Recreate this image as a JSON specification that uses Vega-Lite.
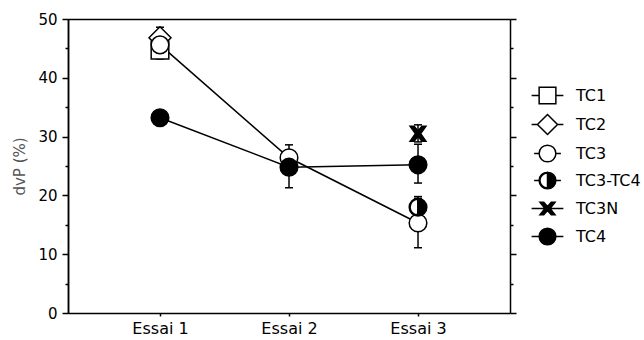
{
  "$schema": "https://vega.github.io/schema/vega-lite/v6.json",
  "width": 442,
  "height": 294,
  "autosize": {"type": "none"},
  "padding": {"left": 68, "top": 19, "right": 134, "bottom": 27},
  "background": "white",
  "config": {
    "view": {"stroke": null},
    "axis": {
      "domainColor": "black", "domainWidth": 1.5, "tickColor": "black", "tickWidth": 1.5,
      "labelColor": "black", "labelFont": "DejaVu Sans", "labelFontSize": 15, "grid": false,
      "titleFont": "DejaVu Sans", "titleFontWeight": "normal"
    },
    "legend": {
      "labelFont": "DejaVu Sans", "labelFontSize": 16, "labelColor": "black",
      "symbolSize": 280, "symbolStrokeWidth": 1.5,
      "rowPadding": 4, "labelOffset": 19
    }
  },
  "datasets": {
    "pts": [
      {"essai": "Essai 1", "serie": "TC1", "v": 44.7},
      {"essai": "Essai 1", "serie": "TC2", "v": 46.8},
      {"essai": "Essai 1", "serie": "TC3", "v": 45.6},
      {"essai": "Essai 1", "serie": "TC4", "v": 33.2},
      {"essai": "Essai 2", "serie": "TC3", "v": 26.4},
      {"essai": "Essai 2", "serie": "TC4", "v": 24.8},
      {"essai": "Essai 3", "serie": "TC3", "v": 15.3},
      {"essai": "Essai 3", "serie": "TC3-TC4", "v": 18.0},
      {"essai": "Essai 3", "serie": "TC3N", "v": 30.5},
      {"essai": "Essai 3", "serie": "TC4", "v": 25.2}
    ],
    "err": [
      {"essai": "Essai 1", "lo": 43.2, "hi": 48.6},
      {"essai": "Essai 2", "lo": 21.3, "hi": 28.6},
      {"essai": "Essai 3", "lo": 22.1, "hi": 28.7},
      {"essai": "Essai 3", "lo": 11.1, "hi": 19.5},
      {"essai": "Essai 3", "lo": 16.5, "hi": 19.8},
      {"essai": "Essai 3", "lo": 29.1, "hi": 32.0}
    ],
    "lines": [
      {"essai": "Essai 1", "serie": "TC3", "v": 45.6},
      {"essai": "Essai 2", "serie": "TC3", "v": 26.4},
      {"essai": "Essai 3", "serie": "TC3", "v": 15.3},
      {"essai": "Essai 1", "serie": "TC4", "v": 33.2},
      {"essai": "Essai 2", "serie": "TC4", "v": 24.8},
      {"essai": "Essai 3", "serie": "TC4", "v": 25.2}
    ],
    "none": []
  },
  "resolve": {
    "axis": {"x": "independent", "y": "independent"},
    "scale": {"shape": "independent", "fill": "independent", "stroke": "independent"}
  },
  "layer": [
    {
      "data": {"name": "lines"},
      "mark": {"type": "line", "color": "black", "strokeWidth": 1.5},
      "encoding": {
        "x": {"field": "essai", "type": "ordinal", "scale": {"type": "point", "padding": 0.713},
              "axis": {"title": null, "labelAngle": 0, "tickSize": 3, "labelPadding": 4, "labelFontSize": 16}},
        "y": {"field": "v", "type": "quantitative", "scale": {"domain": [0, 50], "nice": false},
              "axis": {"title": "dvP (%)", "titleColor": "#555", "titleFontSize": 15, "titlePadding": 10,
                       "values": [0, 10, 20, 30, 40, 50], "tickSize": 6, "labelPadding": 5}},
        "detail": {"field": "serie"}
      }
    },
    {
      "data": {"name": "err"},
      "mark": {"type": "rule", "color": "black", "strokeWidth": 1.5},
      "encoding": {
        "x": {"field": "essai", "type": "ordinal",
              "axis": {"orient": "top", "title": null, "labels": false, "ticks": false, "domain": true}},
        "y": {"field": "lo", "type": "quantitative",
              "axis": {"orient": "left", "title": null, "labels": false, "values": [5, 15, 25, 35, 45], "tickSize": 3}},
        "y2": {"field": "hi"}
      }
    },
    {
      "data": {"name": "err"},
      "mark": {"type": "tick", "color": "black", "thickness": 1.5, "size": 8, "opacity": 1},
      "encoding": {
        "x": {"field": "essai", "type": "ordinal", "axis": null},
        "y": {"field": "lo", "type": "quantitative",
              "axis": {"orient": "right", "title": null, "labels": false, "values": [0, 10, 20, 30, 40, 50], "tickSize": 6}}
      }
    },
    {
      "data": {"name": "err"},
      "mark": {"type": "tick", "color": "black", "thickness": 1.5, "size": 8, "opacity": 1},
      "encoding": {
        "x": {"field": "essai", "type": "ordinal", "axis": null},
        "y": {"field": "hi", "type": "quantitative",
              "axis": {"orient": "right", "title": null, "labels": false, "domain": false, "values": [5, 15, 25, 35, 45], "tickSize": 3}}
      }
    },
    {
      "data": {"name": "pts"},
      "mark": {"type": "point", "filled": true, "stroke": "black", "strokeWidth": 1.5, "size": 310, "opacity": 1},
      "encoding": {
        "x": {"field": "essai", "type": "ordinal", "axis": null},
        "y": {"field": "v", "type": "quantitative", "axis": null},
        "shape": {
          "field": "serie", "type": "nominal",
          "scale": {
            "domain": ["TC1", "TC2", "TC3", "TC3-TC4", "TC3N", "TC4"],
            "range": [
              "square",
              "M-1.25,0L0,-1.25L1.25,0L0,1.25Z",
              "circle",
              "M0,-1A1,1,0,0,0,0,1L0,0.9A0.9,0.9,0,0,1,0,-0.9Z M0,-1A1,1,0,0,1,0,1Z",
              "M-0.9,-0.85L-0.45,-0.85L0,-0.3L0.45,-0.85L0.9,-0.85L0.3,0L0.9,0.85L0.45,0.85L0,0.3L-0.45,0.85L-0.9,0.85L-0.3,0Z",
              "circle"
            ]
          },
          "legend": null
        },
        "fill": {
          "field": "serie", "type": "nominal",
          "scale": {
            "domain": ["TC1", "TC2", "TC3", "TC3-TC4", "TC3N", "TC4"],
            "range": ["white", "white", "white", "black", "black", "black"]
          },
          "legend": null
        }
      }
    },
    {
      "data": {"name": "none"},
      "mark": {"type": "point", "filled": true, "strokeWidth": 1.5, "size": 280, "opacity": 1},
      "encoding": {
        "shape": {
          "field": "serie", "type": "nominal",
          "scale": {
            "domain": ["TC1", "TC2", "TC3", "TC3-TC4", "TC3N", "TC4"],
            "range": [
              "M-1,-1H1V1H-1Z M-1.9,0H-1 M1,0H1.9",
              "M-1.2,0L0,-1.2L1.2,0L0,1.2Z M-1.9,0H-1.2 M1.2,0H1.9",
              "M1,0A1,1,0,1,1,-1,0A1,1,0,1,1,1,0Z M-1.6,0H-1 M1,0H1.6",
              "M0,-1A1,1,0,0,0,0,1L0,0.9A0.9,0.9,0,0,1,0,-0.9Z M0,-1A1,1,0,0,1,0,1Z M-1.6,0H-1 M1,0H1.6",
              "M0,-1.05M0,1.05M-0.9,-0.75L-0.45,-0.75L0,-0.25L0.45,-0.75L0.9,-0.75L0.3,0L0.9,0.75L0.45,0.75L0,0.25L-0.45,0.75L-0.9,0.75L-0.3,0Z M-1.9,0H1.9",
              "M1,0A1,1,0,1,1,-1,0A1,1,0,1,1,1,0Z M-1.9,0H-1 M1,0H1.9"
            ]
          },
          "legend": {"title": null, "orient": "none", "legendX": 470, "legendY": 67}
        },
        "fill": {
          "field": "serie", "type": "nominal",
          "scale": {
            "domain": ["TC1", "TC2", "TC3", "TC3-TC4", "TC3N", "TC4"],
            "range": ["white", "white", "white", "black", "black", "black"]
          },
          "legend": {"title": null, "orient": "none", "legendX": 470, "legendY": 67}
        },
        "stroke": {
          "field": "serie", "type": "nominal",
          "scale": {
            "domain": ["TC1", "TC2", "TC3", "TC3-TC4", "TC3N", "TC4"],
            "range": ["black", "black", "black", "black", "black", "black"]
          },
          "legend": {"title": null, "orient": "none", "legendX": 470, "legendY": 67}
        }
      }
    }
  ]
}
